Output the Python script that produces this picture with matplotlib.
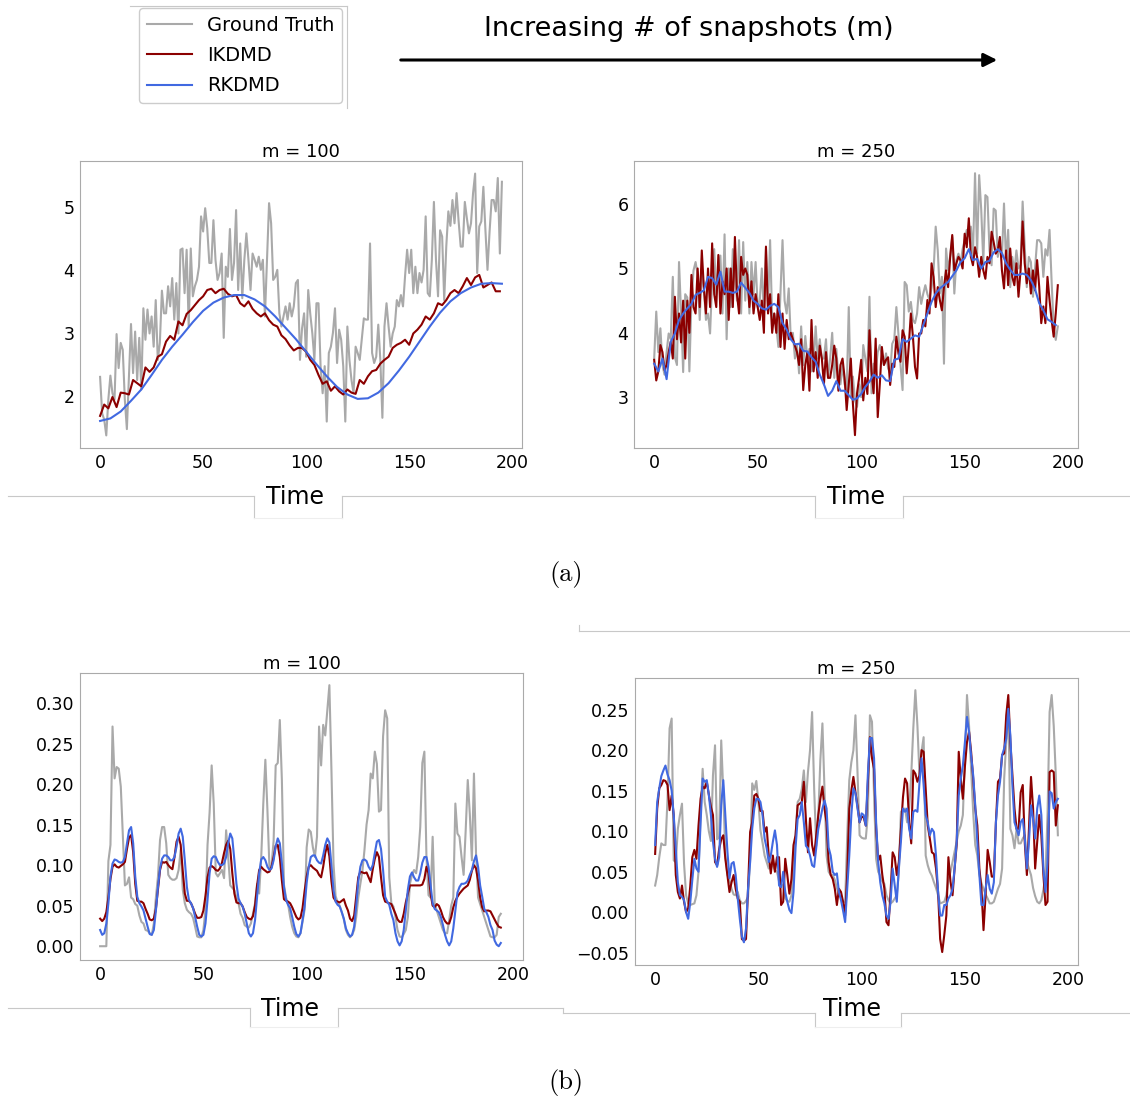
import numpy as np
import matplotlib
matplotlib.use('Agg')
import matplotlib.pyplot as plt
from matplotlib.lines import Line2D
from matplotlib.patches import FancyArrowPatch

# ---- (a) m = 100 : truth every step, IKDMD every 2nd, RKDMD every 5th ----
a100_truth = [
    2.30, 1.72, 1.62, 1.37, 1.94, 2.32, 2.04, 1.94, 2.98, 2.44, 2.84, 2.73, 1.94, 1.47, 2.31, 3.14, 2.36, 3.02, 2.25, 2.92,
    2.10, 3.39, 2.89, 3.37, 2.99, 3.26, 2.78, 3.52, 2.57, 2.84, 3.67, 3.31, 3.31, 3.74, 3.42, 3.87, 3.21, 3.79, 2.99, 4.32,
    4.34, 3.63, 4.32, 3.10, 4.34, 3.58, 3.74, 3.84, 4.05, 4.85, 4.61, 4.98, 4.66, 4.11, 4.11, 4.79, 4.16, 3.84, 3.95, 4.26,
    2.92, 4.05, 3.89, 4.65, 3.84, 4.11, 4.95, 3.68, 4.42, 3.55, 4.16, 4.58, 4.16, 3.68, 4.26, 4.16, 4.05, 4.21, 4.00, 4.16,
    3.26, 4.16, 5.06, 4.74, 3.84, 3.89, 4.00, 3.31, 3.10, 3.26, 3.42, 3.21, 3.47, 3.26, 3.42, 3.79, 3.84, 2.57, 3.07, 3.31,
    2.62, 3.68, 3.30, 2.99, 2.57, 3.47, 3.47, 2.47, 2.04, 2.47, 1.59, 2.68, 2.78, 3.00, 3.39, 2.52, 3.05, 2.89, 2.47, 1.59,
    3.10, 2.57, 2.25, 2.04, 2.78, 2.68, 2.57, 2.90, 3.23, 3.21, 3.21, 4.42, 2.68, 2.52, 2.62, 3.13, 2.57, 1.65, 3.10, 3.47,
    3.10, 2.78, 2.99, 3.10, 3.52, 3.42, 3.60, 3.42, 3.90, 4.32, 3.95, 4.32, 3.63, 4.05, 3.63, 3.95, 3.80, 4.00, 4.85, 3.63,
    3.58, 4.16, 5.08, 4.16, 3.58, 4.63, 4.53, 3.52, 4.37, 4.93, 4.70, 5.11, 4.74, 5.22, 4.77, 4.37, 4.37, 5.08, 4.82, 4.58,
    4.74, 5.22, 5.53, 3.95, 4.69, 4.77, 5.32, 4.63, 4.00, 4.60, 5.11, 5.11, 4.93, 5.46, 4.26, 5.40,
]
a100_ikdmd = [
    1.68, 1.86, 1.80, 1.98, 1.82, 2.05, 2.04, 2.02, 2.25, 2.20,
    2.15, 2.45, 2.38, 2.45, 2.62, 2.66, 2.86, 2.95, 2.89, 3.18,
    3.12, 3.30, 3.36, 3.44, 3.52, 3.58, 3.68, 3.70, 3.63, 3.68,
    3.70, 3.62, 3.58, 3.60, 3.47, 3.42, 3.50, 3.38, 3.31, 3.26,
    3.31, 3.20, 3.13, 3.10, 2.96, 2.90, 2.80, 2.72, 2.76, 2.76,
    2.70, 2.57, 2.49, 2.33, 2.19, 2.23, 2.08, 2.15, 2.07, 2.02,
    2.10, 2.05, 2.03, 2.25, 2.19, 2.31, 2.39, 2.41, 2.51, 2.57,
    2.62, 2.76, 2.81, 2.84, 2.89, 2.81, 2.99, 3.05, 3.13, 3.26,
    3.21, 3.31, 3.47, 3.44, 3.52, 3.63, 3.68, 3.63, 3.74, 3.87,
    3.76, 3.88, 3.92, 3.72, 3.76, 3.80, 3.66, 3.66,
]
a100_rkdmd = [
    1.60, 1.64, 1.75, 1.92, 2.10, 2.33, 2.57, 2.78, 2.97, 3.17,
    3.35, 3.48, 3.56, 3.60, 3.60, 3.53, 3.42, 3.26, 3.08, 2.90,
    2.70, 2.50, 2.31, 2.14, 2.02, 1.95, 1.96, 2.05, 2.20, 2.40,
    2.62, 2.86, 3.10, 3.32, 3.50, 3.63, 3.72, 3.78, 3.79, 3.78,
]

# ---- (a) m = 250 : truth / IKDMD every step, RKDMD every 2nd ----
a250_truth = [
    3.60, 4.33, 3.70, 4.07, 3.50, 3.35, 3.70, 3.99, 3.90, 4.87, 3.62, 3.50, 5.10, 4.30, 3.39, 4.60, 4.55, 3.40, 4.50, 4.97,
    5.10, 4.90, 4.20, 5.00, 4.70, 4.20, 4.30, 3.99, 4.80, 5.30, 4.60, 5.00, 5.20, 4.30, 5.53, 3.90, 5.00, 4.40, 5.30, 4.90,
    4.50, 5.44, 4.30, 5.41, 4.50, 5.10, 4.30, 5.10, 4.60, 5.10, 4.40, 4.50, 5.00, 4.30, 5.30, 4.40, 5.44, 4.20, 4.30, 4.10,
    3.78, 4.60, 5.44, 4.50, 4.30, 4.69, 3.90, 4.00, 3.60, 3.80, 3.37, 4.10, 3.50, 3.95, 3.60, 3.75, 3.40, 3.50, 4.10, 3.60,
    3.90, 3.60, 3.60, 3.90, 3.30, 3.60, 4.00, 3.30, 3.75, 3.30, 3.20, 3.50, 3.20, 3.10, 4.40, 3.00, 3.32, 2.95, 2.85, 3.20,
    3.00, 3.81, 3.60, 3.40, 4.56, 3.06, 3.52, 3.40, 3.70, 3.81, 3.65, 3.50, 3.68, 3.45, 3.37, 3.83, 3.90, 4.40, 3.98, 3.50,
    3.11, 4.79, 4.74, 4.33, 4.48, 4.20, 4.15, 4.30, 4.71, 4.45, 4.61, 4.74, 4.60, 4.51, 4.70, 4.97, 5.65, 5.28, 4.61, 4.87,
    3.52, 5.31, 4.97, 5.20, 5.49, 4.61, 5.13, 5.23, 5.08, 5.30, 5.44, 5.60, 5.50, 5.65, 5.20, 6.48, 5.23, 6.45, 5.91, 5.10,
    6.14, 6.11, 5.28, 5.05, 5.93, 5.90, 5.18, 5.36, 5.18, 6.01, 5.08, 5.60, 4.71, 5.18, 4.95, 5.28, 5.00, 5.05, 6.04, 5.35,
    4.71, 5.18, 5.10, 4.56, 5.00, 5.44, 5.44, 5.39, 4.87, 5.30, 5.20, 5.60, 4.80, 4.09, 3.89, 4.10,
]
a250_ikdmd = [
    3.58, 3.26, 3.40, 3.81, 3.70, 3.42, 3.50, 3.70, 3.86, 3.60, 4.56, 3.90, 4.30, 3.85, 4.50, 3.60, 4.50, 4.00, 4.90, 4.40,
    4.30, 5.00, 4.40, 5.28, 4.70, 4.30, 5.00, 4.40, 5.39, 4.60, 4.40, 5.21, 4.30, 4.80, 4.60, 5.00, 4.20, 5.00, 4.40, 5.49,
    4.60, 4.30, 5.18, 4.90, 5.00, 4.90, 4.40, 4.80, 4.30, 4.60, 4.40, 4.20, 4.50, 4.00, 5.34, 4.30, 4.60, 4.00, 4.30, 4.00,
    4.60, 3.78, 4.30, 3.75, 4.20, 3.90, 4.00, 3.90, 3.80, 3.70, 3.50, 3.90, 3.11, 3.50, 3.70, 3.10, 4.20, 3.40, 3.70, 3.30,
    3.80, 3.60, 3.20, 3.70, 3.30, 3.30, 3.50, 3.80, 3.60, 3.10, 3.50, 3.60, 3.30, 2.80, 3.20, 3.60, 2.90, 2.41, 3.06, 3.30,
    3.58, 2.95, 3.30, 3.05, 4.04, 3.40, 3.06, 3.91, 2.69, 3.20, 3.78, 3.50, 3.58, 3.62, 3.19, 3.52, 3.47, 3.94, 3.68, 3.55,
    4.04, 3.94, 3.37, 3.80, 4.30, 3.94, 3.47, 3.29, 3.99, 3.99, 4.20, 4.10, 4.51, 4.30, 5.08, 4.87, 4.40, 4.71, 4.51, 4.35,
    4.71, 4.97, 4.71, 5.18, 5.52, 4.97, 5.08, 5.18, 5.13, 5.00, 5.54, 5.33, 5.78, 5.18, 5.05, 5.33, 5.18, 4.87, 5.18, 4.97,
    4.84, 5.18, 5.08, 5.57, 5.41, 5.23, 5.28, 5.49, 4.97, 4.69, 5.28, 4.74, 5.31, 4.87, 4.74, 5.08, 4.56, 4.97, 5.73, 5.08,
    4.77, 5.00, 4.61, 4.97, 4.66, 5.13, 4.72, 4.15, 4.41, 4.15, 4.87, 4.51, 4.20, 3.94, 4.30, 4.74,
]
a250_rkdmd = [
    3.52, 3.40, 3.60, 3.28, 3.86, 3.99, 4.20, 4.30, 4.38, 4.45,
    4.59, 4.62, 4.66, 4.87, 4.85, 4.75, 4.95, 4.64, 4.64, 4.62,
    4.64, 4.78, 4.70, 4.62, 4.50, 4.45, 4.38, 4.36, 4.42, 4.45,
    4.40, 4.15, 4.05, 3.90, 3.82, 3.83, 3.72, 3.71, 3.62, 3.55,
    3.35, 3.20, 3.02, 3.10, 3.25, 3.10, 3.10, 3.03, 2.96, 2.98,
    3.05, 3.16, 3.24, 3.35, 3.30, 3.34, 3.26, 3.25, 3.58, 3.60,
    3.90, 3.86, 3.91, 3.96, 3.94, 4.12, 4.30, 4.48, 4.61, 4.69,
    4.74, 4.79, 4.88, 4.97, 5.10, 5.16, 5.30, 5.13, 5.15, 5.00,
    5.10, 5.12, 5.25, 5.30, 5.24, 5.08, 4.98, 4.90, 4.90, 4.92,
    4.90, 4.82, 4.68, 4.46, 4.35, 4.21, 4.17, 4.12,
]

# ---- (b) m = 100 : every step ----
b100_truth = [
    .000, .000, .000, .000, .105, .125, .271, .207, .221, .219, .197, .135, .075, .077, .085, .060, .058, .052, .050, .038,
    .030, .028, .020, .019, .016, .014, .028, .060, .086, .131, .147, .147, .127, .088, .084, .082, .082, .084, .094, .119,
    .070, .053, .045, .042, .040, .035, .024, .012, .011, .011, .020, .045, .125, .165, .223, .176, .090, .086, .090, .094,
    .084, .143, .110, .075, .072, .069, .060, .053, .040, .035, .026, .024, .023, .028, .040, .053, .077, .065, .110, .176,
    .230, .168, .095, .100, .130, .223, .226, .279, .205, .076, .060, .052, .036, .024, .016, .012, .011, .016, .030, .045,
    .122, .144, .141, .122, .110, .135, .271, .223, .273, .260, .291, .322, .217, .102, .062, .054, .050, .042, .033, .020,
    .014, .011, .014, .020, .036, .060, .077, .093, .119, .150, .168, .213, .207, .240, .225, .166, .168, .259, .291, .281,
    .085, .053, .049, .036, .020, .012, .011, .015, .020, .036, .077, .088, .094, .090, .110, .147, .226, .240, .110, .063,
    .060, .135, .052, .044, .036, .028, .020, .016, .016, .032, .050, .060, .176, .139, .135, .110, .088, .143, .205, .163,
    .106, .213, .115, .060, .052, .044, .036, .028, .020, .012, .011, .011, .014, .036, .040,
]
b100_ikdmd = [
    .034, .031, .034, .042, .060, .083, .098, .101, .098, .097, .099, .101, .104, .120, .134, .137, .116, .077, .056, .055,
    .055, .053, .046, .040, .033, .032, .034, .046, .070, .094, .104, .103, .104, .100, .097, .095, .110, .129, .135, .125,
    .093, .065, .056, .056, .053, .047, .040, .035, .035, .036, .044, .062, .085, .097, .099, .097, .094, .093, .096, .103,
    .115, .125, .130, .120, .090, .065, .054, .053, .053, .049, .042, .036, .034, .033, .037, .050, .075, .094, .098, .095,
    .093, .091, .092, .098, .110, .124, .125, .110, .081, .058, .056, .055, .053, .048, .042, .036, .033, .035, .047, .068,
    .086, .098, .100, .097, .095, .093, .088, .085, .098, .115, .125, .111, .080, .060, .056, .055, .054, .056, .058, .050,
    .044, .034, .031, .038, .062, .085, .092, .091, .090, .091, .085, .079, .095, .108, .116, .110, .085, .063, .055, .054,
    .053, .052, .046, .040, .033, .030, .030, .040, .054, .065, .075, .075, .075, .075, .075, .075, .076, .083, .098, .090,
    .065, .050, .048, .052, .050, .044, .036, .031, .028, .028, .036, .048, .056, .061, .065, .068, .071, .073, .075, .082,
    .093, .100, .096, .081, .060, .048, .043, .044, .044, .043, .038, .033, .028, .024, .023,
]
b100_rkdmd = [
    .020, .014, .016, .028, .053, .086, .102, .107, .106, .104, .103, .104, .110, .127, .143, .147, .127, .086, .061, .053,
    .049, .044, .034, .024, .015, .014, .020, .044, .073, .096, .108, .112, .112, .110, .106, .106, .110, .123, .139, .145,
    .135, .106, .073, .057, .053, .047, .036, .024, .014, .012, .014, .028, .057, .090, .108, .111, .110, .104, .100, .100,
    .102, .110, .127, .139, .133, .106, .077, .059, .053, .049, .040, .028, .016, .012, .016, .032, .061, .090, .107, .110,
    .106, .098, .094, .096, .106, .123, .133, .127, .102, .073, .057, .051, .047, .036, .024, .015, .012, .016, .032, .049,
    .078, .098, .110, .112, .112, .106, .103, .102, .112, .125, .133, .128, .100, .069, .055, .051, .049, .042, .034, .022,
    .016, .012, .014, .024, .050, .080, .098, .106, .107, .105, .098, .094, .100, .115, .129, .131, .120, .094, .061, .055,
    .051, .040, .032, .016, .006, .001, .006, .020, .044, .070, .086, .091, .085, .081, .081, .090, .103, .110, .110, .098,
    .075, .053, .046, .044, .042, .036, .026, .014, .006, .001, .006, .022, .044, .066, .073, .077, .077, .078, .081, .088,
    .094, .105, .112, .098, .075, .061, .046, .042, .036, .026, .020, .007, .002, .000, .004,
]

# ---- (b) m = 250 : every step ----
b250_truth = [
    .033, .046, .068, .085, .083, .083, .140, .227, .239, .064, .062, .103, .120, .134, .060, .021, .011, .009, .010, .011,
    .021, .050, .120, .177, .136, .120, .100, .088, .169, .206, .090, .093, .212, .148, .070, .046, .040, .029, .022, .021,
    .025, .015, .011, .011, .014, .019, .066, .159, .151, .162, .136, .101, .086, .070, .062, .054, .058, .058, .052, .050,
    .038, .035, .033, .017, .014, .013, .021, .054, .095, .136, .140, .152, .175, .136, .173, .200, .247, .152, .082, .119,
    .188, .233, .152, .070, .050, .046, .046, .040, .030, .022, .018, .013, .013, .093, .163, .185, .200, .243, .172, .095,
    .092, .091, .091, .120, .243, .235, .144, .066, .050, .045, .038, .035, .021, .015, .011, .013, .017, .021, .050, .124,
    .127, .128, .111, .128, .169, .227, .274, .230, .169, .198, .216, .070, .058, .050, .045, .037, .030, .021, .011, .012,
    .013, .021, .040, .050, .062, .075, .087, .100, .107, .120, .190, .268, .230, .176, .123, .083, .070, .046, .036, .029,
    .022, .017, .011, .011, .013, .021, .029, .035, .054, .165, .210, .256, .103, .095, .079, .103, .085, .085, .091, .095,
    .062, .054, .046, .030, .020, .013, .011, .015, .028, .045, .121, .247, .268, .230, .169, .095,
]
b250_ikdmd = [
    .072, .128, .153, .157, .163, .162, .157, .126, .144, .120, .046, .025, .017, .033, .013, .000, .005, .032, .068, .077,
    .066, .107, .140, .155, .153, .161, .145, .130, .120, .062, .058, .078, .090, .095, .066, .046, .025, .037, .046, .029,
    .017, .013, -.033, -.035, -.033, .030, .099, .111, .144, .146, .140, .125, .125, .099, .105, .070, .048, .070, .050, .068,
    .068, .009, .013, .066, .046, .023, .041, .083, .095, .132, .134, .136, .161, .115, .074, .116, .083, .070, .095, .120,
    .140, .155, .128, .111, .062, .046, .041, .029, .009, .029, .025, .013, -.004, .046, .128, .150, .167, .148, .131, .111,
    .118, .117, .107, .160, .216, .190, .177, .104, .064, .070, .046, .029, -.012, -.016, .025, .074, .068, .046, .062, .103,
    .142, .165, .159, .111, .085, .175, .171, .161, .169, .200, .198, .153, .107, .091, .074, .072, .054, .025, -.033, -.049,
    -.028, -.004, .068, .038, .021, .054, .083, .198, .165, .140, .180, .210, .223, .198, .165, .128, .107, .054, .029, -.022,
    .021, .077, .062, .044, .044, .111, .161, .165, .194, .196, .243, .268, .210, .169, .128, .103, .103, .148, .157, .085,
    .046, .103, .167, .128, .054, .087, .120, .095, .046, .009, .013, .173, .175, .173, .107, .132,
]
b250_rkdmd = [
    .083, .136, .153, .168, .175, .181, .170, .163, .150, .120, .078, .037, .021, .019, .015, .000, -.008, .012, .040, .066,
    .054, .050, .110, .165, .161, .163, .145, .120, .087, .066, .056, .068, .132, .163, .120, .075, .042, .060, .062, .046,
    .017, -.008, -.030, -.037, -.020, .030, .062, .103, .128, .140, .140, .136, .120, .091, .079, .062, .070, .087, .101, .083,
    .033, .031, .050, .025, .013, .003, -.001, .025, .080, .115, .120, .136, .111, .082, .079, .070, .058, .056, .079, .103,
    .115, .128, .138, .128, .080, .070, .050, .046, .048, .025, .015, .002, -.012, .030, .070, .120, .153, .147, .128, .111,
    .122, .120, .107, .170, .215, .215, .190, .111, .062, .037, .021, .011, -.004, -.008, .013, .054, .033, .013, .054, .087,
    .128, .124, .128, .103, .091, .124, .126, .124, .160, .190, .157, .120, .111, .095, .103, .099, .070, .025, -.004, -.004,
    .009, .009, .017, .021, .029, .054, .087, .144, .165, .181, .210, .241, .222, .193, .169, .132, .087, .046, .009, .009,
    .029, .046, .029, .023, .037, .111, .144, .161, .194, .202, .214, .251, .218, .156, .111, .103, .095, .111, .115, .091,
    .054, .087, .132, .115, .091, .128, .144, .120, .054, .025, .062, .149, .147, .128, .136, .140,
]

labels = ['Ground Truth', 'IKDMD', 'RKDMD']
colors = ['darkgray', 'darkred', 'royalblue']

W, H = 1130, 1099
fig = plt.figure(figsize=(W / 100, H / 100), dpi=100)


def fx(x):
    return x / W


def fy(y):
    return 1 - y / H


def panel(rect, series, title, ylim, time_x):
    ax = fig.add_axes(rect)
    for (vals, step), c, lab in zip(series, colors, labels):
        t = np.arange(len(vals)) * step
        ax.plot(t, vals, color=c, lw=1.5, label=lab)
    ax.set_xlim(-9.75, 204.75)
    ax.set_ylim(*ylim)
    ax.set_xticks([0, 50, 100, 150, 200])
    ax.tick_params(labelsize=12.5, length=0, pad=4)
    for s in ax.spines.values():
        s.set_color('#aaaaaa')
    ax.set_title(title, fontsize=13, pad=3)
    ax.set_xlabel('Time', fontsize=17)
    ax.xaxis.set_label_coords(time_x, -0.13)
    return ax


ax1 = panel([fx(80), fy(448), fx(442), 287 / H],
            [(a100_truth, 1), (a100_ikdmd, 2), (a100_rkdmd, 5)],
            'm = 100', (1.17, 5.73), 0.487)
ax2 = panel([fx(634), fy(448), fx(444), 287 / H],
            [(a250_truth, 1), (a250_ikdmd, 1), (a250_rkdmd, 2)],
            'm = 250', (2.21, 6.67), 0.50)
ax3 = panel([fx(80), fy(960), fx(443), 287 / H],
            [(b100_truth, 1), (b100_ikdmd, 1), (b100_rkdmd, 1)],
            'm = 100', (-0.017, 0.337), 0.475)
ax4 = panel([fx(635), fy(965), fx(443), 287 / H],
            [(b250_truth, 1), (b250_ikdmd, 1), (b250_rkdmd, 1)],
            'm = 250', (-0.065, 0.289), 0.49)
ax4.xaxis.set_label_coords(0.49, -0.11)

# legend
fig.legend(*ax1.get_legend_handles_labels(), loc='upper left',
           bbox_to_anchor=(fx(139), fy(8)), fontsize=14, handlelength=2.3,
           labelspacing=0.58, borderaxespad=0, framealpha=1)

# arrow + heading
fig.add_artist(FancyArrowPatch((fx(398), fy(60)), (fx(1000), fy(60)),
                               transform=fig.transFigure, arrowstyle='-|>',
                               mutation_scale=20, lw=2.2, color='black'))
fig.text(fx(689), fy(29), 'Increasing # of snapshots (m)', fontsize=19.5,
         ha='center', va='center')

# sub-figure captions
fig.text(fx(566), fy(575), '(a)', fontsize=19, family='cmr10', ha='center', va='center')
fig.text(fx(566), fy(1082), '(b)', fontsize=19, family='cmr10', ha='center', va='center')

# light grey frame fragments from the composed figure
grey = '#c8c8c8'
segs = [
    [(130, 6), (347, 6)], [(347, 6), (347, 108)],
    [(8, 496), (254, 496)], [(254, 496), (254, 518)], [(342, 496), (342, 518)],
    [(342, 496), (815, 496)], [(815, 496), (815, 518)], [(903, 496), (903, 518)],
    [(903, 496), (1130, 496)],
    [(579, 625), (579, 631)], [(579, 631), (1130, 631)],
    [(8, 1008), (250, 1008)], [(250, 1008), (250, 1027)], [(338, 1008), (338, 1027)],
    [(338, 1008), (563, 1008)], [(563, 1008), (563, 1013)], [(563, 1013), (815, 1013)],
    [(815, 1013), (815, 1027)], [(901, 1013), (901, 1027)], [(901, 1013), (1130, 1013)],
]
for (x0, y0), (x1, y1) in segs:
    fig.add_artist(Line2D([fx(x0), fx(x1)], [fy(y0), fy(y1)], transform=fig.transFigure,
                          color=grey, lw=0.8))
for xa, xb, yb in [(254, 342, 518), (815, 903, 518), (250, 338, 1027), (815, 901, 1027)]:
    fig.add_artist(Line2D([fx(xa), fx(xb)], [fy(yb), fy(yb)], transform=fig.transFigure,
                          color='#eeeeee', lw=0.8))

fig.savefig('out.png', dpi=100)
